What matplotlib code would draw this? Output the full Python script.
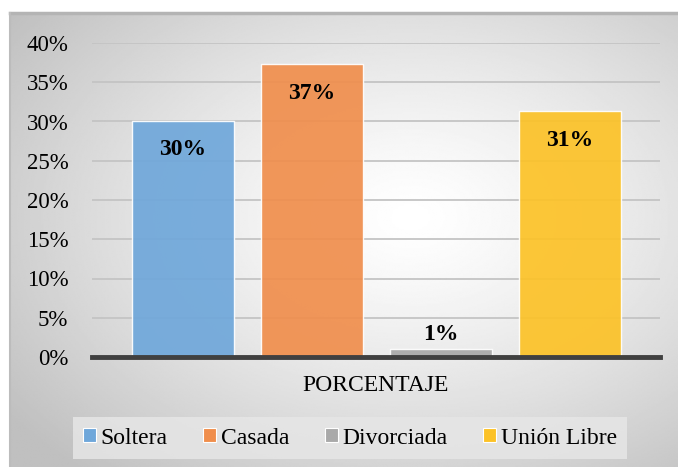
import numpy as np
import matplotlib
matplotlib.use('Agg')
import matplotlib.pyplot as plt
from matplotlib.patches import Patch
from matplotlib.ticker import PercentFormatter

plt.rcParams['font.family'] = ['Liberation Serif', 'DejaVu Serif']

categorias = ['Soltera', 'Casada', 'Divorciada', 'Unión Libre']
porcentajes = [0.301, 0.373, 0.010, 0.313]
colores = ['#6fa7da', '#f08e4c', '#a9a9a9', '#fcc227']
eje_x = 'PORCENTAJE'

W, H = 678, 467
fig = plt.figure(figsize=(W / 100, H / 100), dpi=100)

# fondo con degradado radial
fondo = fig.add_axes([10 / W, 0, 668 / W, 454 / H])
yy, xx = np.mgrid[0:1:300j, 0:1:440j]
r = np.sqrt(((xx - 0.6) / 0.75) ** 2 + ((yy - 0.45) / 0.75) ** 2)
val = 1 - 0.25 * np.clip(r, 0, 1) ** 1.3
fondo.imshow(val, cmap='gray', vmin=0, vmax=1, aspect='auto',
             extent=[0, 1, 0, 1], origin='upper', interpolation='bilinear')
fondo.set_xlim(0, 1)
fondo.set_ylim(0, 1)
fondo.axis('off')
fondo.plot([0, 1], [1, 1], color='#b4b4b4', lw=2.5, clip_on=False)
fondo.plot([0, 0], [0, 1], color='#bcbcbc', lw=1.5, clip_on=False)

ax = fig.add_axes([92 / W, (H - 357) / H, 568 / W, 314 / H])
ax.set_facecolor('none')
x = np.arange(len(categorias))
barras = ax.bar(x, porcentajes, width=0.79, color=colores, alpha=0.92,
                edgecolor='#ffffff', linewidth=1.0, zorder=2)

for xi, v in zip(x, porcentajes):
    if v > 0.05:
        ax.annotate(f'{v:.0%}', (xi, v), xytext=(0, -13.5), textcoords='offset points',
                    ha='center', va='top', fontsize=17, fontweight='bold', zorder=3)
    else:
        ax.annotate(f'{v:.0%}', (xi, v), xytext=(0, 3), textcoords='offset points',
                    ha='center', va='bottom', fontsize=17, fontweight='bold', zorder=3)

ax.set_xlim(-0.705, 3.698)
ax.set_ylim(0, 0.40)
ax.set_yticks(np.arange(0, 0.401, 0.05))
ax.yaxis.set_major_formatter(PercentFormatter(1.0, decimals=0))
ax.tick_params(axis='y', length=0, labelsize=16.5, pad=17)
ax.set_xticks([])
ax.grid(axis='y', color='#c4c4c4', lw=1.3, zorder=0)
ax.set_axisbelow(True)
for s in ['top', 'right', 'left']:
    ax.spines[s].set_visible(False)
ax.spines['bottom'].set_color('#404040')
ax.spines['bottom'].set_linewidth(3.5)
ax.spines['bottom'].set_zorder(4)

ax.set_xlabel(eje_x, fontsize=17, labelpad=13)

handles = [Patch(facecolor=c, edgecolor='#ffffff', lw=0.8, label=l)
           for c, l in zip(colores, categorias)]
leg = fig.legend(handles=handles, loc='center', ncol=4,
                 bbox_to_anchor=(350 / W, (H - 438) / H), fontsize=17,
                 frameon=True, fancybox=False, handlelength=0.55, handleheight=0.55,
                 handletextpad=0.2, columnspacing=1.5, borderpad=0.45)
leg.get_frame().set_facecolor('#e6e6e6')
leg.get_frame().set_edgecolor('none')
leg.get_frame().set_alpha(0.85)

fig.savefig('out.png', dpi=100)
